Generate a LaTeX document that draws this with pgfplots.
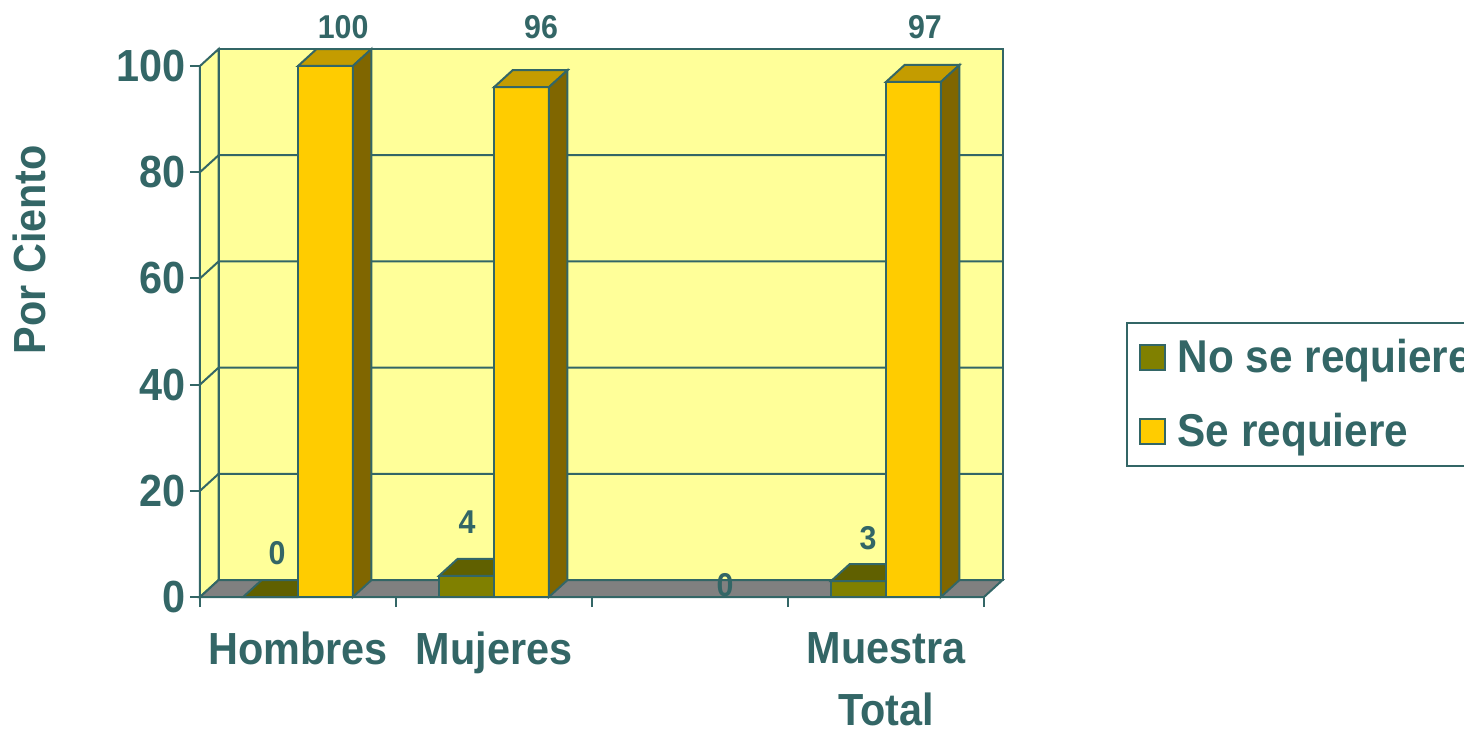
\documentclass[border=0pt]{standalone}
\usepackage{pgfplots}
\pgfplotsset{compat=1.18}
\usepackage{pgfplotstable}
\usepackage{fontspec}
\setmainfont{Liberation Sans}[FakeStretch=0.92]
\definecolor{tealtxt}{HTML}{336666}
\definecolor{olivefront}{HTML}{808000}
\definecolor{olivetop}{HTML}{606000}
\definecolor{goldfront}{HTML}{FFCC00}
\definecolor{goldtop}{HTML}{C49C00}
\definecolor{goldside}{HTML}{806600}
\definecolor{wallyellow}{HTML}{FFFF99}
\definecolor{floorgray}{HTML}{808080}
\newcommand\lblfont{\fontsize{22.5}{31}\selectfont\bfseries}
\newcommand\legfont{\fontsize{23}{28}\selectfont\bfseries}
\newcommand\valfont{\fontsize{16.5}{20}\selectfont\bfseries}

\pgfplotstableread{
x dark yellow
0 0 100
1 4 96
3 3 97
}\data

\begin{document}
\begin{tikzpicture}
\begin{axis}[
  at={(100pt,69pt)}, anchor=south west,
  x=98pt, y=2.655pt,
  xmin=-0.5, xmax=3.6, ymin=0, ymax=104,
  clip=false,
  axis x line*=bottom, axis y line*=left, axis line style={draw=none},
  tick align=outside,
  major tick length=5pt, minor tick length=5pt,
  ytick={0,20,40,60,80,100},
  xtick={0,1,2,3},
  xticklabels={Hombres,Mujeres,{},{Muestra\\Total}},
  minor xtick={-0.5,0.5,1.5,2.5,3.5},
  major x tick style={draw=none},
  minor x tick style={draw=tealtxt, line width=1pt},
  major y tick style={draw=tealtxt, line width=1pt},
  xticklabel style={align=center, font=\lblfont, text=tealtxt, yshift=-9pt},
  yticklabel style={font=\lblfont, text=tealtxt, inner sep=2pt},
  /pgf/number format/assume math mode=true,
  ylabel={Por Ciento},
  ylabel style={at={(axis description cs:-0.2117,0.629)}, anchor=center, font=\lblfont, text=tealtxt},
  legend style={at={(axis description cs:1.152,0.4984)}, anchor=north west,
    draw=tealtxt, line width=1pt, fill=white, font=\legfont, text=tealtxt,
    row sep=14.8pt, inner xsep=6pt, inner ysep=6.25pt,
    cells={anchor=west}},
  sq/.style={legend image code/.code={\draw[##1, draw=tealtxt, line width=1pt] (0pt,-6.25pt) rectangle (12.5pt,6.25pt);}},
  every axis plot/.append style={line width=1pt},
]
% back wall
\addplot[forget plot, fill=wallyellow, draw=tealtxt] coordinates {(-0.405,3.2) (3.595,3.2) (3.595,103.2) (-0.405,103.2)} -- cycle;
% left wall
\addplot[forget plot, fill=wallyellow, draw=tealtxt] coordinates {(-0.5,0) (-0.405,3.2) (-0.405,103.2) (-0.5,100)} -- cycle;
% grid lines
\addplot[forget plot, draw=tealtxt] coordinates {(-0.5,20) (-0.405,23.2) (3.595,23.2)};
\addplot[forget plot, draw=tealtxt] coordinates {(-0.5,40) (-0.405,43.2) (3.595,43.2)};
\addplot[forget plot, draw=tealtxt] coordinates {(-0.5,60) (-0.405,63.2) (3.595,63.2)};
\addplot[forget plot, draw=tealtxt] coordinates {(-0.5,80) (-0.405,83.2) (3.595,83.2)};
% floor
\addplot[forget plot, fill=floorgray, draw=tealtxt] coordinates {(-0.5,0) (3.5,0) (3.595,3.2) (-0.405,3.2)} -- cycle;

% dark bars (front faces)
\addplot[ybar, sq, bar width=0.28, bar shift=-0.14, fill=olivefront, draw=tealtxt] table[x=x, y=dark]{\data};
\addlegendentry{\hspace{4pt}\raisebox{0pt}[\height][0pt]{No se requiere}}
% dark tops
\addplot[forget plot, fill=olivetop, draw=tealtxt] coordinates {(-0.28,0) (0,0) (0.095,3.2) (-0.185,3.2)} -- cycle;
\addplot[forget plot, fill=olivetop, draw=tealtxt] coordinates {(0.72,4) (1,4) (1.095,7.2) (0.815,7.2)} -- cycle;
\addplot[forget plot, fill=olivetop, draw=tealtxt] coordinates {(2.72,3) (3,3) (3.095,6.2) (2.815,6.2)} -- cycle;

% yellow bars (front faces)
\addplot[ybar, sq, bar width=0.28, bar shift=0.14, fill=goldfront, draw=tealtxt] table[x=x, y=yellow]{\data};
\addlegendentry{\hspace{4pt}\raisebox{0pt}[\height][0pt]{Se requiere}}
% yellow tops
\addplot[forget plot, fill=goldtop, draw=tealtxt] coordinates {(0,100) (0.28,100) (0.375,103.2) (0.095,103.2)} -- cycle;
\addplot[forget plot, fill=goldtop, draw=tealtxt] coordinates {(1,96) (1.28,96) (1.375,99.2) (1.095,99.2)} -- cycle;
\addplot[forget plot, fill=goldtop, draw=tealtxt] coordinates {(3,97) (3.28,97) (3.375,100.2) (3.095,100.2)} -- cycle;
% yellow sides
\addplot[forget plot, fill=goldside, draw=tealtxt] coordinates {(0.28,0) (0.375,3.2) (0.375,103.2) (0.28,100)} -- cycle;
\addplot[forget plot, fill=goldside, draw=tealtxt] coordinates {(1.28,0) (1.375,3.2) (1.375,99.2) (1.28,96)} -- cycle;
\addplot[forget plot, fill=goldside, draw=tealtxt] coordinates {(3.28,0) (3.375,3.2) (3.375,100.2) (3.28,97)} -- cycle;

% value labels
\node[font=\valfont, text=tealtxt] at (axis cs:-0.107,8.3) {0};
\node[font=\valfont, text=tealtxt] at (axis cs:0.230,107.3) {100};
\node[font=\valfont, text=tealtxt] at (axis cs:0.862,14.1) {4};
\node[font=\valfont, text=tealtxt] at (axis cs:1.240,107.3) {96};
\node[font=\valfont, text=tealtxt] at (axis cs:2.179,2.3) {0};
\node[font=\valfont, text=tealtxt] at (axis cs:2.908,11.1) {3};
\node[font=\valfont, text=tealtxt] at (axis cs:3.199,107.3) {97};
\end{axis}
\pgfresetboundingbox
\useasboundingbox (0,0) rectangle (732pt,367.5pt);
\end{tikzpicture}
\end{document}
